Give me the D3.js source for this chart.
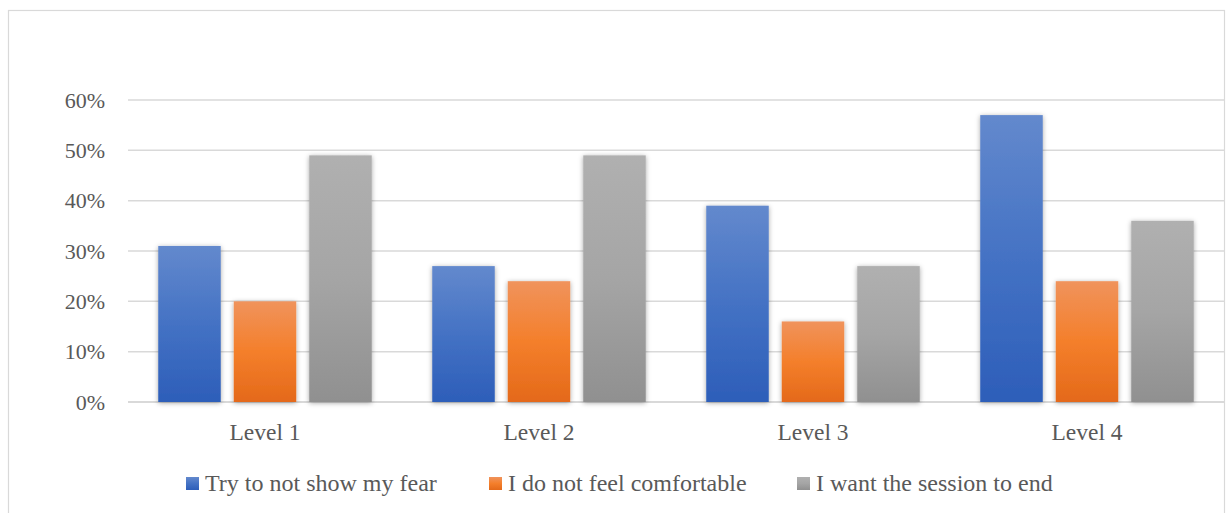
<!DOCTYPE html>
<html><head><meta charset="utf-8">
<script src="https://cdn.jsdelivr.net/npm/d3@7/dist/d3.min.js"></script>
<style>body{margin:0;background:#fff;}svg{display:block;}</style>
</head><body>
<script>
const categories = ["Level 1", "Level 2", "Level 3", "Level 4"];
const seriesNames = ["Try to not show my fear", "I do not feel comfortable", "I want the session to end"];
const fearValues = [0.31, 0.27, 0.39, 0.57];
const comfortValues = [0.20, 0.24, 0.16, 0.24];
const endValues = [0.49, 0.49, 0.27, 0.36];
const yTicks = [0, 0.1, 0.2, 0.3, 0.4, 0.5, 0.6];
const seriesValues = [fearValues, comfortValues, endValues];

(function(){
const W = 1227, H = 513;
const FONT = '"Liberation Serif"';
const svg = d3.select("body").append("svg").attr("width", W).attr("height", H);
const defs = svg.append("defs");
const grads = [
  ["#6389cd", "#4472c4", "#2d5eb9"],
  ["#f0935c", "#f47f2b", "#e4691a"],
  ["#b0b0b0", "#a5a5a5", "#909090"]
];
grads.forEach((g, i) => {
  const lg = defs.append("linearGradient").attr("id", "g" + i).attr("x1", 0).attr("y1", 0).attr("x2", 0).attr("y2", 1);
  lg.append("stop").attr("offset", "0%").attr("stop-color", g[0]);
  lg.append("stop").attr("offset", "50%").attr("stop-color", g[1]);
  lg.append("stop").attr("offset", "100%").attr("stop-color", g[2]);
});
const f = defs.append("filter").attr("id", "sh").attr("x", "-30%").attr("y", "-10%").attr("width", "160%").attr("height", "120%");
f.append("feDropShadow").attr("dx", 0).attr("dy", 1).attr("stdDeviation", 2.5).attr("flood-color", "#000").attr("flood-opacity", 0.35);

svg.append("rect").attr("x", 8.5).attr("y", 10.5).attr("width", 1216).attr("height", 520)
  .attr("fill", "#fff").attr("stroke", "#d9d9d9").attr("stroke-width", 1.2);

const pLeft = 128, pRight = 1224, pTop = 100, pBottom = 402;
const x = d3.scaleBand().domain(categories).range([pLeft, pRight]).paddingInner(0).paddingOuter(0);
const y = d3.scaleLinear().domain([0, 0.6]).range([pBottom, pTop]);
const barW = 62.5, gap = 13;
const groupW = 3 * barW + 2 * gap;
const xs = d3.scaleBand().domain(d3.range(3)).range([0, groupW]).paddingInner(gap / (barW + gap));

const yAxis = d3.axisLeft(y).tickValues(yTicks).tickFormat(d3.format(".0%")).tickSize(0).tickPadding(0);
const ga = svg.append("g").attr("transform", `translate(105,0)`).call(yAxis);
ga.attr("font-family", null);
ga.select(".domain").remove();
ga.selectAll("text").style("font-family", FONT).style("font-size", "22px").attr("fill", "#595959").attr("dy", "0.33em");

svg.append("g").selectAll("line").data(yTicks).join("line")
  .attr("x1", pLeft).attr("x2", pRight)
  .attr("y1", d => y(d)).attr("y2", d => y(d))
  .attr("stroke", "#d9d9d9").attr("stroke-width", d => d === 0 ? 2 : 1.5);

seriesValues.forEach((vals, si) => {
  svg.append("g").attr("filter", "url(#sh)").selectAll("rect").data(vals).join("rect")
    .attr("x", (d, i) => x(categories[i]) + (x.bandwidth() - groupW) / 2 + xs(si))
    .attr("width", xs.bandwidth())
    .attr("y", d => y(d))
    .attr("height", d => y(0) - y(d))
    .attr("fill", `url(#g${si})`);
});

const xAxis = d3.axisBottom(x).tickSize(0).tickPadding(0);
const gx = svg.append("g").attr("transform", `translate(0,${pBottom})`).call(xAxis);
gx.attr("font-family", null);
gx.select(".domain").remove();
gx.selectAll("text").style("font-family", FONT).style("font-size", "23.5px").attr("fill", "#595959").attr("dy", 0).attr("y", 38);

const legendX = [186, 489, 797];
const lg = svg.append("g");
seriesNames.forEach((n, i) => {
  lg.append("rect").attr("x", legendX[i]).attr("y", 477).attr("width", 13).attr("height", 13).attr("fill", `url(#g${i})`);
  lg.append("text").attr("x", legendX[i] + 19).attr("y", 491).text(n)
    .style("font-family", FONT).style("font-size", "24px").attr("fill", "#595959");
});
})();
</script>
</body></html>
